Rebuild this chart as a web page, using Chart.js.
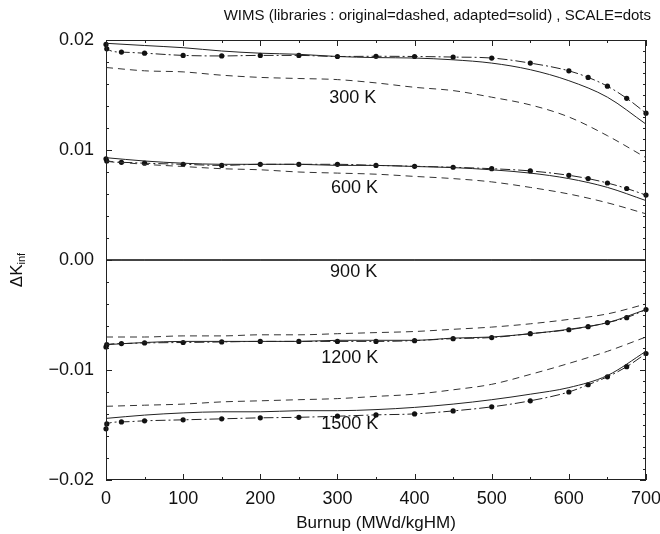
<!DOCTYPE html>
<html>
<head>
<meta charset="utf-8">
<script src="https://cdn.jsdelivr.net/npm/chart.js@4"></script>
<style>
  html, body { margin: 0; padding: 0; background: #fff; }
</style>
</head>
<body>
<canvas id="wimsChart" width="660" height="534"></canvas>
<script>
// burnup grids (MWd/kgHM)
const burnupScale = [0, 1, 20, 50, 100, 150, 200, 250, 300, 350, 400, 450, 500, 550, 600, 625, 650, 675, 700];
const burnupWims = [0, 50, 100, 150, 200, 250, 300, 350, 400, 450, 500, 550, 600, 650, 700];

// SCALE reference (dots)
const scale300 = [0.0196, 0.0192, 0.0189, 0.0188, 0.0186, 0.01855, 0.0186, 0.0186, 0.0185, 0.01852, 0.0185, 0.01845, 0.01836, 0.0179, 0.0172, 0.0166, 0.0158, 0.0147, 0.01335];
const scale600 = [0.0092, 0.0090, 0.00888, 0.0088, 0.0087, 0.0086, 0.0087, 0.0087, 0.0087, 0.0086, 0.00852, 0.00843, 0.0083, 0.0081, 0.0077, 0.0074, 0.0070, 0.0065, 0.0059];
const scale900 = [0, 0, 0, 0, 0, 0, 0, 0, 0, 0, 0, 0, 0, 0, 0, 0, 0, 0, 0];
const scale1200 = [-0.0079, -0.0077, -0.0076, -0.00754, -0.0075, -0.00745, -0.0074, -0.0074, -0.0074, -0.0074, -0.00733, -0.00715, -0.00705, -0.0067, -0.00634, -0.00606, -0.00569, -0.00524, -0.00451];
const scale1500 = [-0.01535, -0.0149, -0.01472, -0.01462, -0.01453, -0.01444, -0.01435, -0.0143, -0.0142, -0.01408, -0.01399, -0.01372, -0.01335, -0.0128, -0.0120, -0.01134, -0.01062, -0.0097, -0.0085];

// WIMS adapted library (solid)
const adapted300 = [0.0197, 0.0195, 0.0193, 0.0190, 0.0188, 0.0187, 0.0185, 0.0184, 0.01836, 0.0182, 0.0179, 0.0173, 0.0163, 0.0148, 0.01235];
const adapted600 = [0.0093, 0.0090, 0.0088, 0.0087, 0.0087, 0.0087, 0.0086, 0.0086, 0.0085, 0.0084, 0.0082, 0.0079, 0.0074, 0.0066, 0.0054];
const adapted900 = [0, 0, 0, 0, 0, 0, 0, 0, 0, 0, 0, 0, 0, 0, 0];
const adapted1200 = [-0.0077, -0.0075, -0.0074, -0.0074, -0.0074, -0.0074, -0.0073, -0.0073, -0.0073, -0.0071, -0.0070, -0.0067, -0.0063, -0.0057, -0.0045];
const adapted1500 = [-0.0144, -0.0141, -0.0139, -0.0138, -0.0138, -0.0137, -0.0137, -0.0136, -0.0134, -0.0131, -0.0127, -0.0122, -0.0116, -0.0105, -0.0083];

// WIMS original library (dashed)
const original300 = [0.0175, 0.0172, 0.0171, 0.0168, 0.0166, 0.0165, 0.0164, 0.0161, 0.0157, 0.0154, 0.0148, 0.0141, 0.0130, 0.0113, 0.0093];
const original600 = [0.0090, 0.0087, 0.0085, 0.0083, 0.0082, 0.0080, 0.0079, 0.0078, 0.0076, 0.0074, 0.0071, 0.0066, 0.0060, 0.0052, 0.0042];
const original900 = [0, 0, 0, 0, 0, 0, 0, 0, 0, 0, 0, 0, 0, 0, 0];
const original1200 = [-0.0070, -0.0070, -0.0069, -0.0069, -0.0068, -0.0068, -0.0067, -0.0066, -0.0065, -0.0063, -0.0061, -0.0058, -0.0054, -0.0049, -0.0040];
const original1500 = [-0.0133, -0.0132, -0.0131, -0.0129, -0.0128, -0.0127, -0.0126, -0.0124, -0.0122, -0.0118, -0.0113, -0.0104, -0.0094, -0.0083, -0.0070];

const tempLabels = ['300 K', '600 K', '900 K', '1200 K', '1500 K'];
const labelBurnup = [320, 322, 321, 316, 316];
const labelValue = [0.0147, 0.0065, -0.0011, -0.0089, -0.0149];

const xTicks = [0, 100, 200, 300, 400, 500, 600, 700];
const yTicks = [-0.02, -0.01, 0.00, 0.01, 0.02];

const FONT = "'Liberation Sans', Arial, Helvetica, sans-serif";
const INK = '#111';

function pts(xs, ys) {
    return xs.map((x, i) => ({ x: x, y: ys[i] }));
}

function dashedSet(name, ys) {
    return {
        label: name, data: pts(burnupWims, ys),
        borderColor: '#333', borderWidth: 1, borderDash: [7, 5],
        pointRadius: 0, cubicInterpolationMode: 'monotone', clip: 6
    };
}
function solidSet(name, ys) {
    return {
        label: name, data: pts(burnupWims, ys),
        borderColor: '#222', borderWidth: 1,
        pointRadius: 0, cubicInterpolationMode: 'monotone', clip: 6
    };
}
function dotSet(name, ys) {
    return {
        label: name, data: pts(burnupScale, ys),
        borderColor: '#222', borderWidth: 1, borderDash: [10, 3, 2, 3],
        pointRadius: 2.6, pointBackgroundColor: INK, pointBorderColor: INK,
        pointBorderWidth: 0, cubicInterpolationMode: 'monotone', clip: 6
    };
}

const datasets = [
    dashedSet('original 300 K', original300), solidSet('adapted 300 K', adapted300), dotSet('SCALE 300 K', scale300),
    dashedSet('original 600 K', original600), solidSet('adapted 600 K', adapted600), dotSet('SCALE 600 K', scale600),
    dashedSet('original 900 K', original900), solidSet('adapted 900 K', adapted900), dotSet('SCALE 900 K', scale900),
    dashedSet('original 1200 K', original1200), solidSet('adapted 1200 K', adapted1200), dotSet('SCALE 1200 K', scale1200),
    dashedSet('original 1500 K', original1500), solidSet('adapted 1500 K', adapted1500), dotSet('SCALE 1500 K', scale1500)
];
// at 900 K everything sits on the zero line, shown as one thin line
datasets[6].borderDash = [];
datasets[8].pointRadius = 0;
datasets[8].borderDash = [];

// frame, inward ticks and all annotation text
const overlay = {
    id: 'overlay',
    afterDatasetsDraw(chart) {
        const { ctx, chartArea: a, scales: { x, y } } = chart;
        ctx.save();
        ctx.strokeStyle = '#222';
        ctx.lineWidth = 1;
        ctx.strokeRect(a.left + 0.5, a.top + 0.5, a.width - 1, a.height - 1);

        function seg(x1, y1, x2, y2) {
            ctx.beginPath(); ctx.moveTo(x1, y1); ctx.lineTo(x2, y2); ctx.stroke();
        }
        for (let v = 0; v <= 700; v += 50) {
            const px = Math.round(x.getPixelForValue(v)) + 0.5;
            const len = v % 100 === 0 ? 6 : 3;
            seg(px, a.bottom, px, a.bottom - len);
            seg(px, a.top, px, a.top + len);
        }
        for (let k = -20; k <= 20; k++) {
            const py = Math.round(y.getPixelForValue(k / 1000)) + 0.5;
            const major = k % 10 === 0;
            if (k % 2 === 0) seg(a.left, py, a.left + (major ? 6 : 3), py);
            seg(a.right, py, a.right - (major ? 6 : 3), py);
        }

        ctx.fillStyle = INK;
        ctx.textBaseline = 'middle';

        // curve labels
        ctx.font = '18px ' + FONT;
        ctx.textAlign = 'center';
        tempLabels.forEach((t, i) => {
            ctx.fillText(t, x.getPixelForValue(labelBurnup[i]), y.getPixelForValue(labelValue[i]));
        });

        // title
        ctx.font = '15px ' + FONT;
        ctx.textAlign = 'right';
        ctx.fillText('WIMS (libraries : original=dashed, adapted=solid) , SCALE=dots', 651, 16);

        // x axis title
        ctx.font = '17px ' + FONT;
        ctx.textAlign = 'center';
        ctx.fillText('Burnup (MWd/kgHM)', (a.left + a.right) / 2, 523);

        // y axis title with subscript
        ctx.translate(17, 270);
        ctx.rotate(-Math.PI / 2);
        ctx.font = '17px ' + FONT;
        const w1 = ctx.measureText('ΔK').width;
        ctx.font = '11px ' + FONT;
        const w2 = ctx.measureText('inf').width;
        ctx.textAlign = 'left';
        ctx.font = '17px ' + FONT;
        ctx.fillText('ΔK', -(w1 + w2) / 2, 0);
        ctx.font = '11px ' + FONT;
        ctx.fillText('inf', -(w1 + w2) / 2 + w1, 5);
        ctx.restore();
    }
};

new Chart(document.getElementById('wimsChart').getContext('2d'), {
    type: 'line',
    data: { datasets: datasets },
    options: {
        responsive: false,
        animation: false,
        layout: { padding: { top: 40, right: 14, left: 0, bottom: 0 } },
        plugins: { legend: { display: false }, tooltip: { enabled: false } },
        scales: {
            x: {
                type: 'linear', min: 0, max: 700,
                afterFit: (s) => { s.height = 54; s.paddingLeft = 0; s.paddingRight = 0; },
                afterBuildTicks: (s) => { s.ticks = xTicks.map(v => ({ value: v })); },
                grid: { display: false, drawTicks: false },
                border: { display: false },
                ticks: { color: INK, padding: 8, maxRotation: 0, font: { family: FONT, size: 18 } }
            },
            y: {
                type: 'linear', min: -0.02, max: 0.02,
                afterFit: (s) => { s.width = 106; s.paddingTop = 0; s.paddingBottom = 0; },
                afterBuildTicks: (s) => { s.ticks = yTicks.map(v => ({ value: v })); },
                grid: { display: false, drawTicks: false },
                border: { display: false },
                ticks: {
                    color: INK, padding: 12, font: { family: FONT, size: 18 },
                    callback: (v) => Number(v).toFixed(2).replace('-0.00', '0.00').replace('-', '\u2212')
                }
            }
        }
    },
    plugins: [overlay]
});
</script>
</body>
</html>
